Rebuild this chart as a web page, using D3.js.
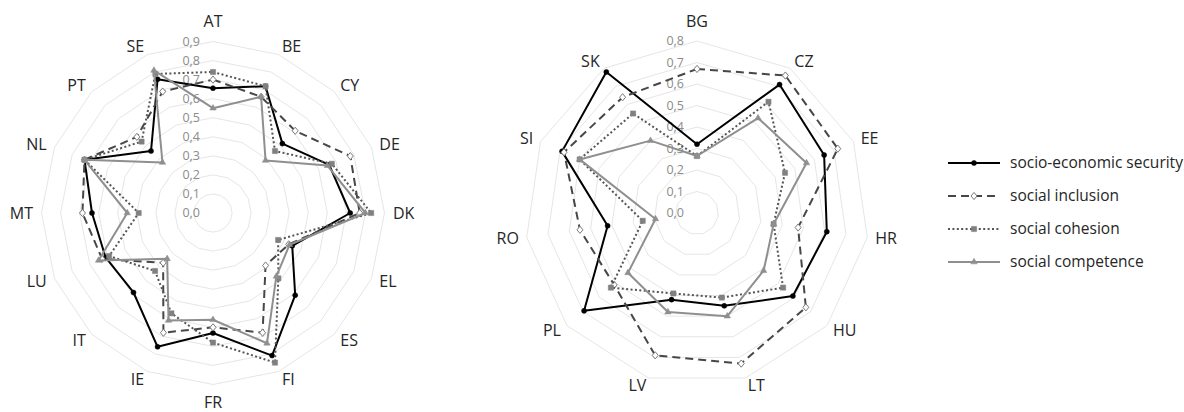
<!DOCTYPE html>
<html>
<head>
<meta charset="utf-8">
<script src="https://cdn.jsdelivr.net/npm/d3@7"></script>
<style>
  body { margin: 0; background: #fff; }
  svg { display: block; font-family: "Open Sans", "Liberation Sans", sans-serif; }
</style>
</head>
<body>
<svg id="chart" width="1184" height="412"></svg>
<script>
// Indicator series, in drawing order
const seriesNames = ["socio-economic security", "social inclusion", "social cohesion", "social competence"];

// First group of countries
const countriesA = ["AT","BE","CY","DE","DK","EL","ES","FI","FR","IE","IT","LU","MT","NL","PT","SE"];
const securityA   = [0.655,0.72,0.515,0.66,0.72,0.45,0.61,0.81,0.63,0.76,0.59,0.61,0.635,0.73,0.46,0.76];
const inclusionA  = [0.70,0.66,0.61,0.78,0.77,0.43,0.39,0.68,0.60,0.68,0.37,0.63,0.685,0.73,0.565,0.69];
const cohesionA   = [0.74,0.72,0.46,0.675,0.83,0.37,0.485,0.85,0.68,0.57,0.43,0.59,0.39,0.73,0.53,0.79];
const competenceA = [0.55,0.66,0.39,0.65,0.80,0.435,0.47,0.74,0.56,0.61,0.34,0.65,0.45,0.73,0.375,0.81];
const ticksA = [0.0,0.1,0.2,0.3,0.4,0.5,0.6,0.7,0.8,0.9];

// Second group of countries
const countriesB = ["BG","CZ","EE","HR","HU","LT","LV","PL","RO","SI","SK"];
const securityB   = [0.32,0.71,0.65,0.61,0.59,0.45,0.42,0.695,0.42,0.69,0.78];
const inclusionB  = [0.67,0.76,0.72,0.475,0.67,0.73,0.69,0.51,0.55,0.68,0.64];
const cohesionB   = [0.265,0.615,0.45,0.36,0.53,0.41,0.39,0.53,0.255,0.60,0.55];
const competenceB = [0.265,0.525,0.56,0.36,0.41,0.50,0.48,0.425,0.195,0.60,0.40];
const ticksB = [0.0,0.1,0.2,0.3,0.4,0.5,0.6,0.7,0.8];

// Line and marker styles, one per series
const styles = [
  { stroke: "#000000", width: 2,   dash: null,    marker: "circle",   mFill: "#000000", mStroke: "#000000" },
  { stroke: "#474747", width: 2,   dash: "8,5",   marker: "diamond",  mFill: "#ffffff", mStroke: "#7a7a7a" },
  { stroke: "#555555", width: 2,   dash: "2,2.4", marker: "square",   mFill: "#808080", mStroke: "#808080" },
  { stroke: "#8f8f8f", width: 2,   dash: null,    marker: "triangle", mFill: "#8f8f8f", mStroke: "#8f8f8f" }
];

const fmt = v => d3.format(".1f")(v).replace(".", ",");
const svg = d3.select("#chart");

function markerPath(type) {
  if (type === "circle") return d3.symbol(d3.symbolCircle, 20)();
  if (type === "diamond") return "M0,-3.6L3,0L0,3.6L-3,0Z";
  if (type === "square") return "M-2.6,-2.6H2.6V2.6H-2.6Z";
  return d3.symbol(d3.symbolTriangle, 18)();
}

function drawRadar(cx, cy, radius, categories, seriesValues, ticks) {
  const n = categories.length;
  const maxV = ticks[ticks.length - 1];
  const r = d3.scaleLinear().domain([0, maxV]).range([0, radius]);
  const angle = i => i * 2 * Math.PI / n;
  const g = svg.append("g").attr("transform", `translate(${cx},${cy})`);

  // web grid rings
  const ring = d3.lineRadial().curve(d3.curveLinearClosed);
  g.append("g").selectAll("path")
    .data(ticks.filter(t => t > 0))
    .join("path")
    .attr("d", t => ring(categories.map((c, i) => [angle(i), r(t)])))
    .attr("fill", "none")
    .attr("stroke", "#e6e6e6")
    .attr("stroke-width", 1);

  // value labels along the first axis
  g.append("g").selectAll("text")
    .data(ticks)
    .join("text")
    .attr("x", -13)
    .attr("y", t => -r(t))
    .attr("dy", "0.35em")
    .attr("text-anchor", "end")
    .attr("font-size", 12.5)
    .attr("fill", "#8c8c8c")
    .text(fmt);

  // category labels around the web
  const labR = 180;
  g.append("g").selectAll("text")
    .data(categories)
    .join("text")
    .attr("x", (c, i) => labR * Math.sin(angle(i)))
    .attr("y", (c, i) => {
      const s = Math.sin(angle(i)), co = Math.cos(angle(i));
      const extra = Math.abs(s) < 0.05 ? (co > 0 ? 12 : -9) : 0;
      return -labR * co - extra;
    })
    .attr("dy", "0.35em")
    .attr("text-anchor", (c, i) => {
      const s = Math.sin(angle(i));
      return Math.abs(s) < 0.05 ? "middle" : (s > 0 ? "start" : "end");
    })
    .attr("font-size", 16)
    .attr("fill", "#262626")
    .text(c => c);

  // series lines and markers
  const line = d3.lineRadial().curve(d3.curveLinearClosed);
  seriesValues.forEach((vals, k) => {
    const st = styles[k];
    const pts = vals.map((v, i) => [angle(i), r(v)]);
    const sg = g.append("g");
    sg.append("path")
      .attr("d", line(pts))
      .attr("fill", "none")
      .attr("stroke", st.stroke)
      .attr("stroke-width", st.width)
      .attr("stroke-dasharray", st.dash)
      .attr("stroke-linejoin", "round");
    sg.selectAll("path.m")
      .data(vals)
      .join("path")
      .attr("class", "m")
      .attr("transform", (v, i) => `translate(${r(v) * Math.sin(angle(i))},${-r(v) * Math.cos(angle(i))})`)
      .attr("d", markerPath(st.marker))
      .attr("fill", st.mFill)
      .attr("stroke", st.mStroke)
      .attr("stroke-width", st.marker === "diamond" ? 1 : 0.5);
  });
}

drawRadar(213, 213, 171.5, countriesA, [securityA, inclusionA, cohesionA, competenceA], ticksA);
drawRadar(697, 213, 172, countriesB, [securityB, inclusionB, cohesionB, competenceB], ticksB);

// legend
const legend = svg.append("g").attr("transform", "translate(948,163)");
const rowH = 33;
seriesNames.forEach((name, k) => {
  const st = styles[k];
  const row = legend.append("g").attr("transform", `translate(0,${k * rowH})`);
  row.append("line")
    .attr("x1", 0).attr("x2", 52).attr("y1", 0).attr("y2", 0)
    .attr("stroke", st.stroke)
    .attr("stroke-width", st.width)
    .attr("stroke-dasharray", st.dash);
  row.append("path")
    .attr("transform", "translate(26,0)")
    .attr("d", markerPath(st.marker))
    .attr("fill", st.mFill)
    .attr("stroke", st.mStroke)
    .attr("stroke-width", st.marker === "diamond" ? 1 : 0.5);
  row.append("text")
    .attr("x", 62).attr("y", 0).attr("dy", "0.35em")
    .attr("font-size", 15.5)
    .attr("fill", "#262626")
    .text(name);
});
</script>
</body>
</html>
